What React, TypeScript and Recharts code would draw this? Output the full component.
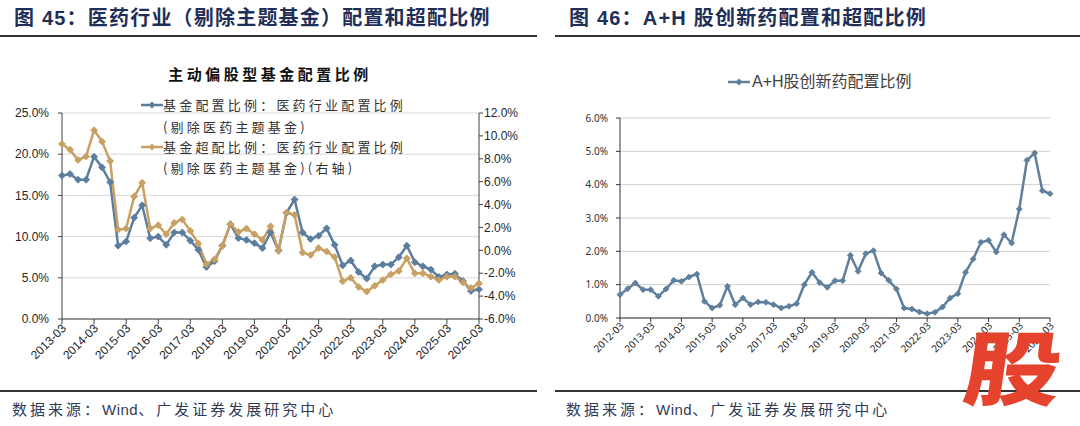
import React from "react";
import { LineChart, Line, XAxis, YAxis, CartesianGrid } from "recharts";

// quarter-end months used on both x axes
const QUARTER_MONTHS = ["03", "06", "09", "12"];

// 图45: 医药行业（剔除主题基金）配置比例 (left axis, %)
const pharmaWeight = [
  17.4, 17.6, 16.9, 16.9, 19.7, 18.4, 16.6, 8.9, 9.4, 12.3, 13.8, 9.8, 10.0,
  9.0, 10.5, 10.5, 9.5, 8.4, 6.3, 7.0, 8.9, 11.5, 9.8, 9.6, 9.2, 8.6, 10.5,
  8.3, 12.9, 14.5, 10.5, 9.7, 10.1, 11.0, 9.0, 6.5, 7.1, 5.7, 4.9, 6.4, 6.6,
  6.6, 7.5, 8.9, 6.9, 6.4, 6.0, 5.1, 5.4, 5.5, 4.6, 3.4, 3.6,
];

// 图45: 医药行业超配比例 (right axis, %)
const pharmaOverweight = [
  9.3, 8.8, 7.9, 8.2, 10.5, 9.5, 7.8, 1.8, 1.9, 4.7, 5.9, 1.9, 2.2, 1.4, 2.4,
  2.7, 1.7, 0.6, -1.2, -0.8, 0.4, 2.3, 1.6, 1.9, 1.4, 0.9, 2.1, 0.0, 3.3, 3.1,
  -0.2, -0.4, 0.2, -0.1, -0.6, -2.7, -2.4, -3.2, -3.6, -3.1, -2.6, -2.1, -1.8,
  -0.7, -2.0, -2.0, -2.3, -2.6, -2.3, -2.3, -2.8, -3.3, -2.9,
];

// 图46: A+H股创新药配置比例 (%)
const innovWeight = [
  0.7, 0.88, 1.05, 0.85, 0.85, 0.65, 0.87, 1.13, 1.1, 1.23, 1.32, 0.5, 0.3,
  0.38, 0.95, 0.4, 0.6, 0.4, 0.48, 0.47, 0.4, 0.3, 0.35, 0.43, 1.0, 1.37, 1.06,
  0.92, 1.12, 1.12, 1.88, 1.4, 1.93, 2.02, 1.35, 1.13, 0.87, 0.3, 0.27, 0.18,
  0.13, 0.17, 0.33, 0.6, 0.73, 1.37, 1.77, 2.27, 2.33, 1.98, 2.5, 2.25, 3.27,
  4.73, 4.95, 3.82, 3.73,
];

const leftTicks = [0, 5, 10, 15, 20, 25];
const rightTicks = [-6, -4, -2, 0, 2, 4, 6, 8, 10, 12];
const innovTicks = [0, 1, 2, 3, 4, 5, 6];

const BLUE = "#5b7d9e";
const GOLD = "#c9a063";
const STEEL = "#5f7f9c";
const CJK = '"Noto Sans CJK SC", sans-serif';
const ARIAL = '"Liberation Sans", "Noto Sans CJK SC", sans-serif';

function quarterLabels(from: number, to: number): string[] {
  const out: string[] = [];
  for (let y = from; y <= to; y++) {
    for (const m of QUARTER_MONTHS) {
      out.push(`${y}-${m}`);
      if (y === to) return out;
    }
  }
  return out;
}

const leftDates = quarterLabels(2013, 2026);
const rightDates = quarterLabels(2012, 2026);

const leftData = leftDates.map((date, i) => ({
  date,
  weight: pharmaWeight[i],
  over: pharmaOverweight[i],
}));
const rightData = rightDates.map((date, i) => ({ date, weight: innovWeight[i] }));

const pct = (v: number) => `${v.toFixed(1)}%`;

function diamond(color: string, r: number) {
  // eslint-disable-next-line @typescript-eslint/no-explicit-any
  return (props: any) => {
    const { cx, cy, index } = props;
    if (cx == null || cy == null) return <g key={index} />;
    return (
      <path
        key={index}
        d={`M${cx},${cy - r}L${cx + r},${cy}L${cx},${cy + r}L${cx - r},${cy}Z`}
        fill={color}
        stroke={color}
        strokeWidth={0.8}
      />
    );
  };
}

// eslint-disable-next-line @typescript-eslint/no-explicit-any
function RotatedTick({ x, y, payload, fs, family }: any) {
  return (
    <g transform={`translate(${x + 2},${y})`}>
      <text
        x={0}
        y={0}
        dy={fs * 0.35}
        textAnchor="end"
        transform="rotate(-45)"
        fontSize={fs}
        fontFamily={family}
        fill="#262626"
      >
        {payload.value}
      </text>
    </g>
  );
}

function LegendMark({ color }: { color: string }) {
  return (
    <svg width={22} height={10} style={{ display: "block" }}>
      <line x1={0} y1={5} x2={22} y2={5} stroke={color} strokeWidth={2.5} />
      <path d="M11,1.5L14.5,5L11,8.5L7.5,5Z" fill={color} />
    </svg>
  );
}

function Source({ left }: { left: number }) {
  return (
    <div
      style={{
        position: "absolute",
        left,
        top: 400,
        fontFamily: ARIAL,
        fontSize: 15,
        letterSpacing: 3,
        color: "#2f3b57",
        lineHeight: "20px",
        whiteSpace: "nowrap",
      }}
    >
      数据来源：<span style={{ letterSpacing: 0.5 }}>Wind</span>、广发证券发展研究中心
    </div>
  );
}

export default function App() {
  const legendText: React.CSSProperties = {
    position: "absolute",
    left: 163,
    fontFamily: CJK,
    fontSize: 13,
    letterSpacing: 3.2,
    color: "#333",
    lineHeight: "16px",
    whiteSpace: "nowrap",
  };
  const titleStyle: React.CSSProperties = {
    position: "absolute",
    top: 5,
    fontFamily: ARIAL,
    fontWeight: 700,
    fontSize: 20,
    letterSpacing: 1.2,
    color: "#1f2f58",
    lineHeight: "26px",
    whiteSpace: "nowrap",
  };

  return (
    <div
      style={{
        position: "absolute",
        left: 0,
        top: 0,
        width: 1080,
        height: 426,
        background: "#fff",
        overflow: "hidden",
      }}
    >
      {/* panel titles */}
      <div style={{ ...titleStyle, left: 14 }}>图 45：医药行业（剔除主题基金）配置和超配比例</div>
      <div style={{ ...titleStyle, left: 569 }}>图 46：A+H 股创新药配置和超配比例</div>
      <div style={{ position: "absolute", left: 0, top: 35, width: 537, height: 2, background: "#333" }} />
      <div style={{ position: "absolute", left: 555, top: 35, width: 525, height: 2, background: "#333" }} />

      {/* left chart */}
      <div style={{ position: "absolute", left: 0, top: 0 }}>
        <LineChart
          width={540}
          height={390}
          data={leftData}
          margin={{ top: 113, right: 0, bottom: 11, left: 0 }}
        >
          <CartesianGrid yAxisId="left" vertical={false} stroke="#d9d9d9" strokeWidth={1} />
          <XAxis
            dataKey="date"
            interval={3}
            height={60}
            tickSize={5}
            axisLine={{ stroke: "#404040" }}
            tickLine={{ stroke: "#404040" }}
            tick={<RotatedTick fs={12} family={ARIAL} />}
          />
          <YAxis
            yAxisId="left"
            width={62}
            domain={[0, 25]}
            ticks={leftTicks}
            tickFormatter={pct}
            tickSize={4}
            tickMargin={9}
            axisLine={{ stroke: "#404040" }}
            tickLine={{ stroke: "#404040" }}
            tick={{ fontSize: 12, fontFamily: ARIAL, fill: "#262626" }}
          />
          <YAxis
            yAxisId="right"
            orientation="right"
            width={61}
            domain={[-6, 12]}
            ticks={rightTicks}
            tickFormatter={pct}
            tickSize={4}
            tickMargin={1}
            axisLine={{ stroke: "#404040" }}
            tickLine={{ stroke: "#404040" }}
            tick={{ fontSize: 12, fontFamily: ARIAL, fill: "#262626" }}
          />
          <Line
            yAxisId="left"
            dataKey="weight"
            stroke={BLUE}
            strokeWidth={2.5}
            dot={diamond(BLUE, 3.5)}
            activeDot={false}
            isAnimationActive={false}
          />
          <Line
            yAxisId="right"
            dataKey="over"
            stroke={GOLD}
            strokeWidth={2.5}
            dot={diamond(GOLD, 3.5)}
            activeDot={false}
            isAnimationActive={false}
          />
        </LineChart>
      </div>
      <div
        style={{
          position: "absolute",
          left: 0,
          width: 540,
          top: 64,
          textAlign: "center",
          fontFamily: CJK,
          fontWeight: 700,
          fontSize: 15,
          letterSpacing: 3.5,
          color: "#111",
          lineHeight: "20px",
        }}
      >
        主动偏股型基金配置比例
      </div>
      <div style={{ position: "absolute", left: 141, top: 100 }}>
        <LegendMark color={BLUE} />
      </div>
      <div style={{ ...legendText, top: 97 }}>基金配置比例：医药行业配置比例</div>
      <div style={{ ...legendText, top: 119 }}>(剔除医药主题基金)</div>
      <div style={{ position: "absolute", left: 141, top: 142 }}>
        <LegendMark color={GOLD} />
      </div>
      <div style={{ ...legendText, top: 139 }}>基金超配比例：医药行业配置比例</div>
      <div style={{ ...legendText, top: 160 }}>(剔除医药主题基金)(右轴)</div>

      {/* right chart */}
      <div style={{ position: "absolute", left: 540, top: 0 }}>
        <LineChart
          width={540}
          height={390}
          data={rightData}
          margin={{ top: 118, right: 30, bottom: 12, left: 0 }}
        >
          <CartesianGrid vertical={false} stroke="#d0d0d0" strokeWidth={1} />
          <XAxis
            dataKey="date"
            interval={3}
            height={60}
            tickSize={4}
            axisLine={{ stroke: "#333" }}
            tickLine={{ stroke: "#333" }}
            tick={<RotatedTick fs={10} family='"Noto Sans", sans-serif' />}
          />
          <YAxis
            width={80}
            domain={[0, 6]}
            ticks={innovTicks}
            tickFormatter={pct}
            tickSize={4}
            tickMargin={8}
            axisLine={{ stroke: "#333" }}
            tickLine={{ stroke: "#333" }}
            tick={{ fontSize: 10, fontFamily: '"Noto Sans", sans-serif', fill: "#333" }}
          />
          <Line
            dataKey="weight"
            stroke={STEEL}
            strokeWidth={2.5}
            dot={diamond(STEEL, 3)}
            activeDot={false}
            isAnimationActive={false}
          />
        </LineChart>
      </div>
      <div style={{ position: "absolute", left: 728, top: 77 }}>
        <LegendMark color={STEEL} />
      </div>
      <div
        style={{
          position: "absolute",
          left: 752,
          top: 71,
          fontFamily: ARIAL,
          fontSize: 16,
          color: "#404040",
          lineHeight: "22px",
          whiteSpace: "nowrap",
        }}
      >
        A+H股创新药配置比例
      </div>

      {/* sources */}
      <div style={{ position: "absolute", left: 0, top: 390, width: 537, height: 2, background: "#333" }} />
      <div style={{ position: "absolute", left: 555, top: 390, width: 525, height: 2, background: "#333" }} />
      <Source left={12} />
      <Source left={566} />

      {/* watermark */}
      <div
        style={{
          position: "absolute",
          left: 972,
          top: 320,
          fontFamily: CJK,
          fontWeight: 900,
          fontSize: 92,
          lineHeight: "100px",
          color: "#e5432d",
          transform: "skewX(-8deg) scale(1.05, 0.88)",
          transformOrigin: "left top",
        }}
      >
        股
      </div>
    </div>
  );
}
